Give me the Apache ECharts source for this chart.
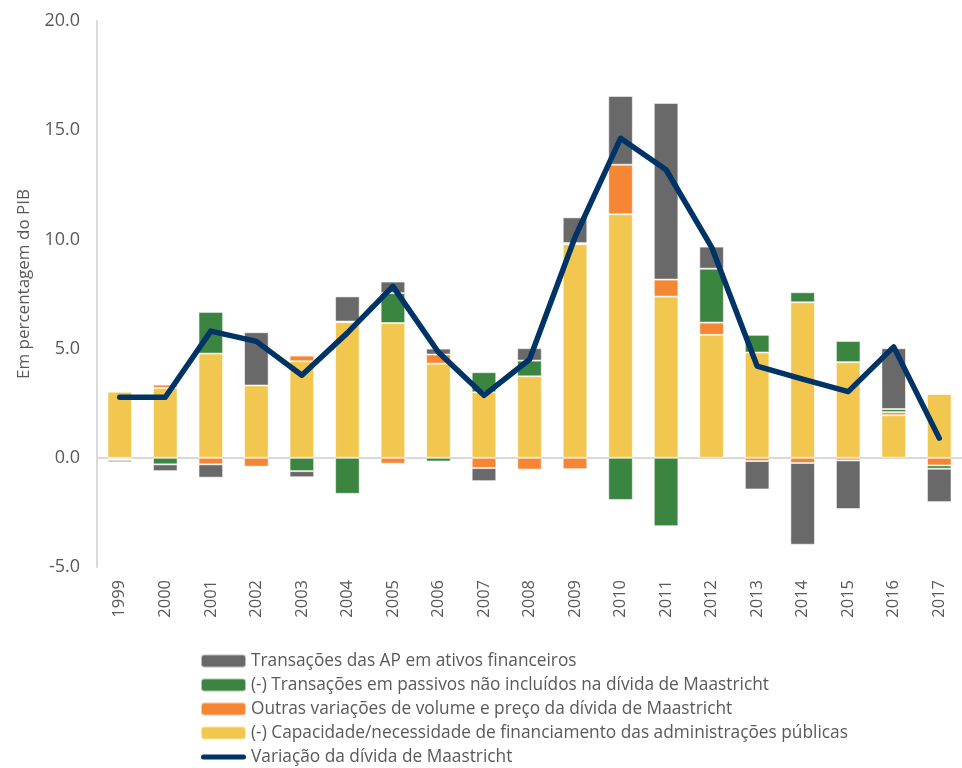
<!DOCTYPE html>
<html>
<head>
<meta charset="utf-8">
<script src="https://cdn.jsdelivr.net/npm/echarts@6/dist/echarts.min.js"></script>
<style>
  html, body { margin: 0; padding: 0; background: #fff; }
  #chart1 { width: 962px; height: 768px; }
</style>
</head>
<body>
<div id="chart1"></div>
<script>
// dados
var anos = ['1999', '2000', '2001', '2002', '2003', '2004', '2005', '2006', '2007', '2008',
    '2009', '2010', '2011', '2012', '2013', '2014', '2015', '2016', '2017'];
var capacidade = [3.02, 3.2, 4.77, 3.31, 4.42, 6.21, 6.17, 4.31, 3.0, 3.73,
    9.78, 11.15, 7.38, 5.63, 4.82, 7.12, 4.38, 1.95, 2.92];
var outrasVariacoes = [-0.05, 0.15, -0.3, -0.41, 0.26, 0.03, -0.27, 0.42, -0.47, -0.54,
    -0.52, 2.27, 0.78, 0.56, -0.15, -0.24, -0.12, 0.14, -0.35];
var passivos = [-0.05, -0.3, 1.91, -0.03, -0.61, -1.65, 1.37, -0.17, 0.92, 0.72,
    0.05, -1.93, -3.13, 2.47, 0.81, 0.46, 0.97, 0.14, -0.15];
var ativos = [-0.1, -0.31, -0.61, 2.44, -0.28, 1.15, 0.53, 0.27, -0.6, 0.57,
    1.18, 3.15, 8.09, 1.01, -1.3, -3.74, -2.23, 2.79, -1.53];
var variacaoDivida = [2.77, 2.77, 5.8, 5.33, 3.78, 5.72, 7.85, 4.83, 2.86, 4.5,
    10.1, 14.63, 13.19, 9.65, 4.2, 3.6, 3.03, 5.08, 0.9];
var ticksY = [-5, 0, 5, 10, 15, 20];

var nomes = [
    'Transações das AP em ativos financeiros',
    '(-) Transações em passivos não incluídos na dívida de Maastricht',
    'Outras variações de volume e preço da dívida de Maastricht',
    '(-) Capacidade/necessidade de financiamento das administrações públicas',
    'Variação da dívida de Maastricht'
];

var fonte = 'Open Sans';
var cinzaTexto = '#595959';
var borda = { borderColor: 'rgba(255,255,255,0.55)', borderWidth: 1 };
// ícone da linha na legenda (traço grosso com pontas redondas)
var iconeLinha = 'path://M2.5,0 L42.5,0 A2.5,2.5 0 0 1 42.5,5 L2.5,5 A2.5,2.5 0 0 1 2.5,0 Z';

function barra(nome, dados, cor) {
    return {
        name: nome,
        type: 'bar',
        stack: 'total',
        barWidth: '54%',
        data: dados,
        itemStyle: Object.assign({ color: cor }, borda)
    };
}

var myChart = echarts.init(document.getElementById('chart1'));
myChart.setOption({
    animation: false,
    textStyle: { fontFamily: fonte },
    grid: { left: 97, top: 21, width: 875, bottom: 201, containLabel: false },
    // legenda
    legend: {
        orient: 'vertical',
        left: 200,
        top: 651,
        height: 130,
        padding: 0,
        itemWidth: 45,
        itemHeight: 13,
        itemGap: 4,
        data: [nomes[0], nomes[1], nomes[2], nomes[3], { name: nomes[4], icon: iconeLinha }],
        textStyle: { fontSize: 17.3, lineHeight: 20, color: cinzaTexto, fontFamily: fonte }
    },
    // eixo x
    xAxis: [{
        type: 'category',
        data: anos,
        axisLine: { show: false, onZero: false },
        axisTick: { show: false },
        axisLabel: { rotate: 90, margin: 13, fontSize: 16.5, color: cinzaTexto, fontFamily: fonte }
    }, {
        type: 'category',
        data: anos,
        axisLine: { onZero: true, lineStyle: { color: '#d9d9d9', width: 2 } },
        axisTick: { show: false },
        axisLabel: { show: false }
    }],
    // eixo y
    yAxis: {
        type: 'value',
        min: ticksY[0],
        max: ticksY[ticksY.length - 1],
        interval: 5,
        name: 'Em percentagem do PIB',
        nameLocation: 'middle',
        nameGap: 64,
        nameTextStyle: { fontSize: 17, color: cinzaTexto, fontFamily: fonte, padding: [0, 0, 0, 20] },
        axisLine: { show: true, lineStyle: { color: '#d9d9d9', width: 2 } },
        axisTick: { show: false },
        splitLine: { show: false },
        axisLabel: {
            margin: 17,
            fontSize: 18,
            color: cinzaTexto,
            fontFamily: fonte,
            formatter: function (v) { return v.toFixed(1); }
        }
    },
    // séries
    series: [
        barra(nomes[3], capacidade, '#f2c74f'),
        barra(nomes[2], outrasVariacoes, '#f58634'),
        barra(nomes[1], passivos, '#3c8541'),
        barra(nomes[0], ativos, '#696969'),
        {
            name: nomes[4],
            type: 'line',
            data: variacaoDivida,
            symbol: 'none',
            color: '#003366',
            lineStyle: { width: 5.5, color: '#003366', cap: 'round', join: 'round' },
            z: 5
        }
    ]
});
</script>
</body>
</html>
